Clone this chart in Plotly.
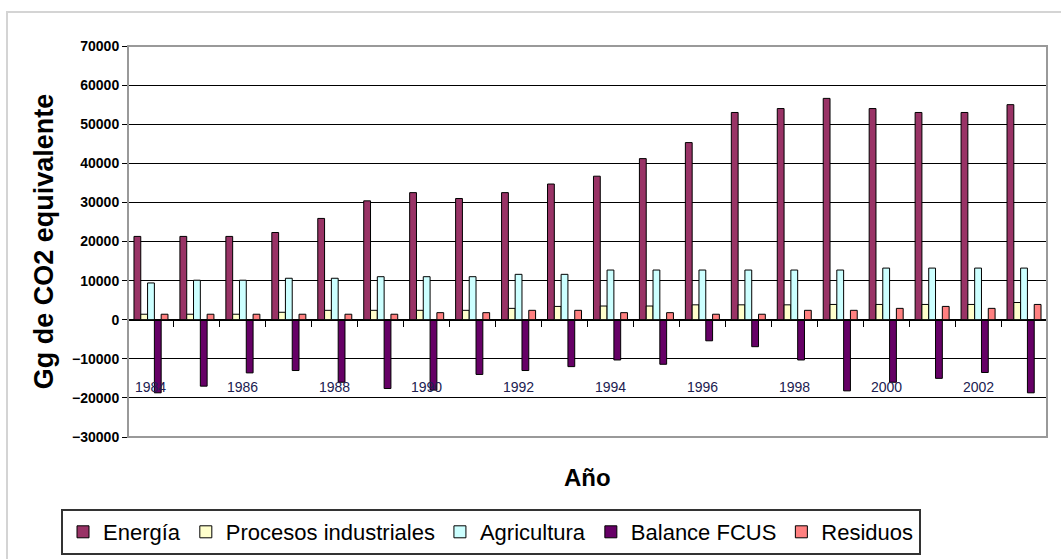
import plotly.graph_objects as go

# Emisiones por sector, Gg de CO2 equivalente
years = [str(y) for y in range(1984, 2004)]
energia = [21300, 21300, 21300, 22300, 25900, 30400, 32500, 31000, 32500, 34700,
           36700, 41200, 45300, 53000, 54000, 56600, 54000, 53000, 53000, 55000]
procesos = [1400, 1400, 1400, 1900, 2400, 2400, 2400, 2400, 2900, 3400,
            3500, 3500, 3800, 3800, 3800, 3900, 3900, 3900, 3900, 4400]
agricultura = [9400, 10100, 10100, 10600, 10600, 11000, 11000, 11000, 11600, 11600,
               12700, 12700, 12700, 12700, 12700, 12700, 13200, 13200, 13200, 13200]
balance_fcus = [-18700, -17000, -13600, -13000, -16000, -17600, -18000, -14000, -13000, -12000,
                -10300, -11400, -5400, -6900, -10300, -18200, -16000, -15000, -13500, -18700]
residuos = [1400, 1400, 1400, 1400, 1400, 1400, 1800, 1800, 2400, 2400,
            1800, 1800, 1400, 1400, 2400, 2400, 2900, 3400, 2900, 3900]
labeled_years = years[::2]

series = [
    ("Energía", energia, "#993366"),
    ("Procesos industriales", procesos, "#FFFFCC"),
    ("Agricultura", agricultura, "#CCFFFF"),
    ("Balance FCUS", balance_fcus, "#660066"),
    ("Residuos", residuos, "#FF8080"),
]

FONT = "Liberation Sans, Arial, sans-serif"
Y_MIN, Y_MAX = -30000, 70000

fig = go.Figure()
for name, values, color in series:
    fig.add_trace(go.Bar(
        x=years, y=values, name=name,
        marker=dict(color=color, line=dict(color="black", width=1)),
    ))

# Year labels sit inside the plot, just above the -20000 gridline
for yr in labeled_years:
    fig.add_annotation(x=years.index(yr), y=-17200, xref="x", yref="y", text=yr,
                       showarrow=False, font=dict(family=FONT, size=14, color="#202050"))

W, H = 1061, 559
ML, MR, MT, MB = 128, 14, 46, 122
pw, ph = W - ML - MR, H - MT - MB

# Axis title below the plot
fig.add_annotation(x=0.5, y=(H - MB - 477) / ph, xref="paper", yref="paper",
                   text="<b>Año</b>", showarrow=False, yanchor="middle",
                   font=dict(family=FONT, size=24, color="black"))

# Chart-area frame (left and top edges visible) and plot-area frame
fig.add_shape(type="rect", xref="paper", yref="paper",
              x0=(7 - ML) / pw, x1=(1075 - ML) / pw,
              y0=(H - MB - 575) / ph, y1=(H - MB - 12) / ph,
              line=dict(color="#d4d4d4", width=2), layer="below")
fig.add_shape(type="rect", xref="paper", yref="paper", x0=0, x1=1, y0=0, y1=1,
              line=dict(color="#999999", width=2), layer="above")

fig.update_layout(
    width=W, height=H,
    margin=dict(l=ML, r=MR, t=MT, b=MB, autoexpand=False),
    paper_bgcolor="white", plot_bgcolor="white",
    barmode="group", bargap=0.26, bargroupgap=0,
    font=dict(family=FONT, color="black"),
    showlegend=True,
    legend=dict(
        orientation="h", x=(61 - ML) / pw, xanchor="left",
        y=(H - MB - 509) / ph, yanchor="top",
        bordercolor="#333333", borderwidth=2, bgcolor="white",
        font=dict(family=FONT, size=22, color="black"),
        itemclick=False, traceorder="normal",
    ),
    xaxis=dict(
        type="category", range=[-0.5, len(years) - 0.5],
        anchor="free", position=(0 - Y_MIN) / (Y_MAX - Y_MIN),
        showline=True, linecolor="black", linewidth=1,
        ticks="outside", ticklen=6, tickcolor="black", tickwidth=1,
        tickson="boundaries", showticklabels=False, showgrid=False,
        zeroline=False,
    ),
    yaxis=dict(
        range=[Y_MIN, Y_MAX], dtick=10000, tickformat="d",
        showline=True, linecolor="black", linewidth=1,
        ticks="outside", ticklen=5, tickcolor="black",
        showgrid=True, gridcolor="black", gridwidth=1, zeroline=False,
        tickfont=dict(family=FONT, size=14, color="black", weight="bold"),
        title=dict(text="<b>Gg de CO2 equivalente</b>", standoff=10,
                   font=dict(family=FONT, size=27, color="black")),
    ),
)

fig.write_html("out.html")
